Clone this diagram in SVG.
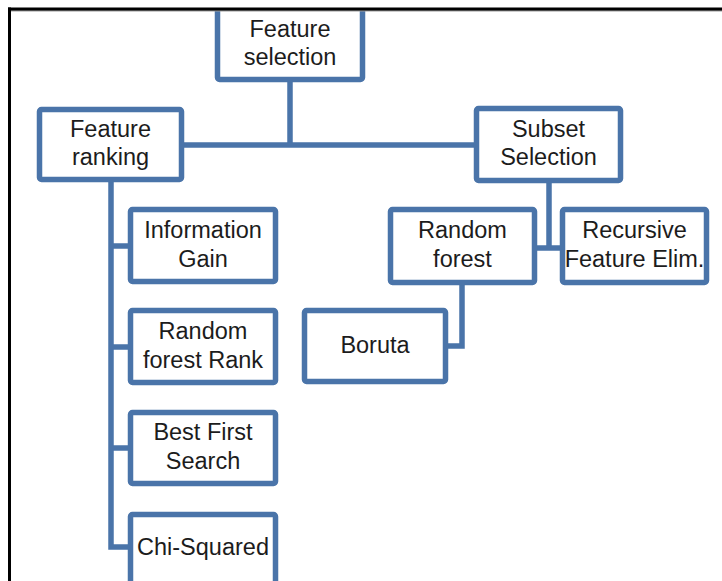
<svg xmlns="http://www.w3.org/2000/svg" width="722" height="581" viewBox="0 0 722 581">
<style>
.box{fill:#fff;stroke:#4a74a9;stroke-width:5.5;}
.con{fill:none;stroke:#4a74a9;stroke-width:5.5;stroke-linejoin:miter;}
.t{font-family:"Liberation Sans",Arial,sans-serif;font-size:23.5px;fill:#1c1c1c;text-anchor:middle;}
</style>
<rect x="0" y="0" width="722" height="581" fill="#fff"/>
<g id="connectors">
<path class="con" d="M290 80 V145 M184 145 H474"/>
<path class="con" d="M111 182 V547 H128 M111 246 H128 M111 347 H128 M111 448 H128"/>
<path class="con" d="M549 183 V248 M537 248 H560"/>
<path class="con" d="M462 285 V346 H448"/>
</g>
<g id="feature-selection"><rect class="box" x="217.5" y="2" width="145" height="77.5" rx="2"/><text class="t" x="290" y="37">Feature</text><text class="t" x="290" y="65">selection</text></g>
<g id="feature-ranking"><rect class="box" x="39.5" y="109.5" width="142" height="70" rx="2"/><text class="t" x="110.5" y="137">Feature</text><text class="t" x="110.5" y="165">ranking</text></g>
<g id="subset-selection"><rect class="box" x="476.5" y="108.5" width="144" height="72" rx="2"/><text class="t" x="548.5" y="137">Subset</text><text class="t" x="548.5" y="165">Selection</text></g>
<g id="information-gain"><rect class="box" x="130.5" y="209.5" width="145" height="72" rx="2"/><text class="t" x="203" y="238">Information</text><text class="t" x="203" y="267">Gain</text></g>
<g id="random-forest-rank"><rect class="box" x="130.5" y="310.5" width="145" height="72" rx="2"/><text class="t" x="203" y="339">Random</text><text class="t" x="203" y="368">forest Rank</text></g>
<g id="best-first-search"><rect class="box" x="130.5" y="412.5" width="145" height="71" rx="2"/><text class="t" x="203" y="440">Best First</text><text class="t" x="203" y="469">Search</text></g>
<g id="chi-squared"><rect class="box" x="130.5" y="514.5" width="145" height="80" rx="2"/><text class="t" x="203" y="555">Chi-Squared</text></g>
<g id="random-forest"><rect class="box" x="390.5" y="209.5" width="144" height="73" rx="2"/><text class="t" x="462.5" y="238">Random</text><text class="t" x="462.5" y="267">forest</text></g>
<g id="recursive-feature-elim"><rect class="box" x="562.5" y="209.5" width="144" height="73" rx="2"/><text class="t" x="634.5" y="238">Recursive</text><text class="t" x="634.5" y="267">Feature Elim.</text></g>
<g id="boruta"><rect class="box" x="304.5" y="310.5" width="141" height="71" rx="2"/><text class="t" x="375" y="353">Boruta</text></g>
<rect x="0" y="0" width="722" height="8" fill="#fff"/>
<rect x="8" y="10" width="714" height="1.5" fill="#9a9a9a"/>
<rect x="8" y="7.5" width="714" height="3" fill="#000"/>
<rect x="8" y="7.5" width="3" height="574" fill="#000"/>
</svg>
